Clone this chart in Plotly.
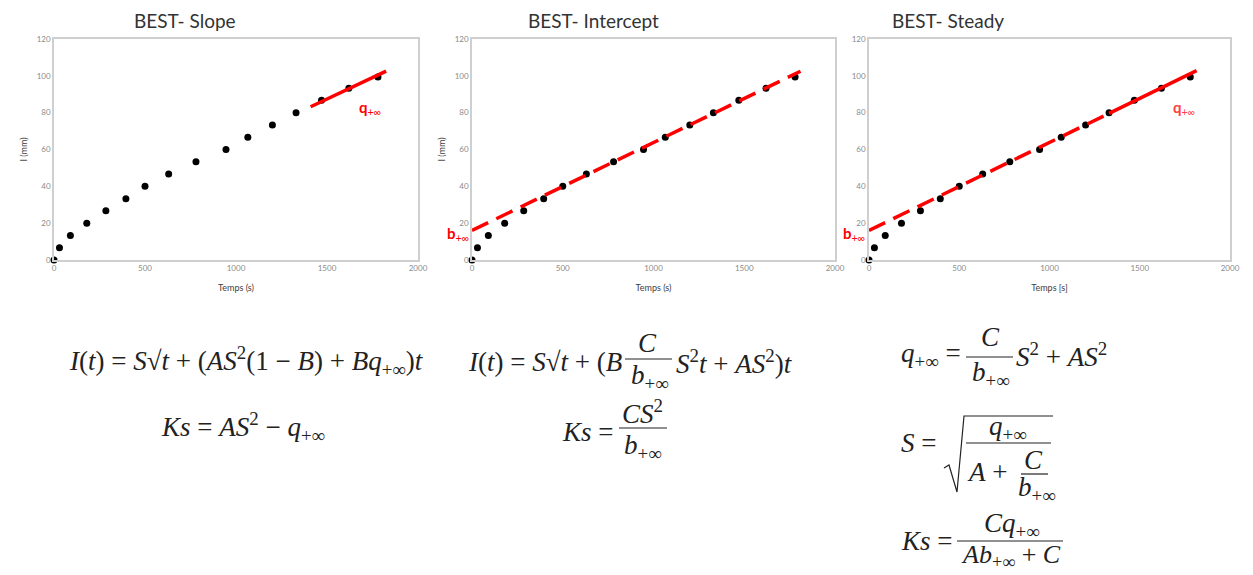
import plotly.graph_objects as go

# the page body keeps an 8px margin, so the figure is drawn 8px in from the corner
OFF = 8
W, H = 1253 - OFF, 575 - OFF

# infiltration data (same points on each)
temps = [0, 30, 90, 180, 285, 395, 500, 630, 780, 945, 1065, 1200, 1330, 1470, 1620, 1780]
infil = [0, 6.7, 13.3, 20, 26.7, 33.3, 40, 46.7, 53.3, 60, 66.7, 73.3, 80, 86.7, 93.3, 99.3]

# red fitted lines
slope_t = [1410, 1825]
slope_i = [83.2, 102.6]
icpt_t = [0, 1810]
icpt_i = [16.0, 102.5]
steady_dash_t = [0, 1330]
steady_dash_i = [16.0, 79.6]
steady_solid_t = [1330, 1815]
steady_solid_i = [79.6, 102.8]

titles = ["BEST- Slope", "BEST- Intercept", "BEST- Steady"]
xtitles = ["Temps (s)", "Temps (s)", "Temps [s]"]
xticks = [0, 500, 1000, 1500, 2000]
yticks = [0, 20, 40, 60, 80, 100, 120]


def px(x):
    return (x - OFF) / W


def py(y):
    return 1 - (y - OFF) / H


# pixel extents of the three plot areas (screen coordinates)
panels = [(54, 418), (472, 835), (869, 1230)]
ytop, ybot = 39, 260

fig = go.Figure()
for k in range(3):
    ax = "" if k == 0 else str(k + 1)
    fig.add_trace(go.Scatter(
        x=temps, y=infil, mode="markers", xaxis="x" + ax, yaxis="y" + ax,
        marker=dict(color="black", size=7), showlegend=False, cliponaxis=False,
    ))

red = "#ff0000"
fig.add_trace(go.Scatter(x=slope_t, y=slope_i, mode="lines", xaxis="x", yaxis="y",
                         line=dict(color=red, width=3.5), showlegend=False))
fig.add_trace(go.Scatter(x=icpt_t, y=icpt_i, mode="lines", xaxis="x2", yaxis="y2",
                         line=dict(color=red, width=3.5, dash="18px,9px"), showlegend=False))
fig.add_trace(go.Scatter(x=steady_dash_t, y=steady_dash_i, mode="lines", xaxis="x3", yaxis="y3",
                         line=dict(color=red, width=3.5, dash="18px,9px"), showlegend=False))
fig.add_trace(go.Scatter(x=steady_solid_t, y=steady_solid_i, mode="lines", xaxis="x3", yaxis="y3",
                         line=dict(color=red, width=3.5), showlegend=False))

axfont = dict(family="Lato, Arial", size=8, color="#8a8a8a")
layout = dict(
    width=W, height=H, margin=dict(l=0, r=0, t=0, b=0, autoexpand=False),
    paper_bgcolor="white", plot_bgcolor="white",
)
for k, (x0, x1) in enumerate(panels):
    ax = "" if k == 0 else str(k + 1)
    layout["xaxis" + ax] = dict(
        domain=[px(x0), px(x1)], range=[0, 2000], tickvals=xticks, anchor="y" + ax,
        showgrid=False, zeroline=False, showline=True, mirror=True, automargin=False,
        linecolor="#cfcfcf", linewidth=1.5, tickfont=axfont, ticks="",
        title=dict(text=xtitles[k], font=dict(family="Lato, Arial", size=9, color="#404040"),
                   standoff=12),
    )
    layout["yaxis" + ax] = dict(
        domain=[py(ybot), py(ytop)], range=[0, 120], tickvals=yticks, anchor="x" + ax,
        showgrid=False, zeroline=False, showline=True, mirror=True, automargin=False,
        linecolor="#cfcfcf", linewidth=1.5, tickfont=axfont, ticks="",
        title=dict(text="I (mm)" if k < 2 else "", font=dict(family="Lato, Arial", size=9, color="#404040"),
                   standoff=8),
    )
fig.update_layout(**layout)

ann = []
shapes = []
serif = "Liberation Serif, Times New Roman, serif"
EQ = 27


def text(x, y, s, size=EQ, anchor="left", color="#222", family=serif, yanchor="middle"):
    ann.append(dict(x=px(x), y=py(y), xref="paper", yref="paper", text=s, showarrow=False,
                    xanchor=anchor, yanchor=yanchor, borderpad=0,
                    font=dict(family=family, size=size, color=color)))


def bar(x0, x1, y):
    shapes.append(dict(type="line", xref="paper", yref="paper", x0=px(x0), x1=px(x1),
                       y0=py(y), y1=py(y), line=dict(color="#222", width=1.2)))


# titles
for cx, t in zip([185, 593, 948], titles):
    text(cx, 8, t, size=19, anchor="center", color="#333", family="Lato, Calibri, Arial", yanchor="top")

# red labels on the charts
lab = "Lato, Calibri, Arial"
text(358, 108, "<b>q</b><sub>+∞</sub>", size=15, color=red, family=lab)
text(446, 234, "<b>b</b><sub>+∞</sub>", size=15, color=red, family=lab)
text(842, 234, "<b>b</b><sub>+∞</sub>", size=15, color=red, family=lab)
text(1172, 108, "<b>q</b><sub>+∞</sub>", size=15, color="#ff4040", family=lab)

inf = "<sub>+∞</sub>"
sqt = "√<i>t</i>"

# panel 1 equations
text(68, 361, f"<i>I</i>(<i>t</i>) = <i>S</i>{sqt} + (<i>AS</i><sup>2</sup>(1 − <i>B</i>) + <i>Bq</i>{inf})<i>t</i>")
text(160, 427, f"<i>Ks</i> = <i>AS</i><sup>2</sup> − <i>q</i>{inf}")

# panel 2 equations
text(623, 362, f"<i>I</i>(<i>t</i>) = <i>S</i>{sqt} + (<i>B</i>", anchor="right")
text(648, 343, "<i>C</i>", anchor="center")
bar(625, 672, 359)
text(650, 377, f"<i>b</i>{inf}", anchor="center")
text(675, 362, "<i>S</i><sup>2</sup><i>t</i> + <i>AS</i><sup>2</sup>)<i>t</i>")

text(615, 432, "<i>Ks</i> =", anchor="right")
text(642, 412, "<i>CS</i><sup>2</sup>", anchor="center")
bar(619, 667, 428)
text(643, 447, f"<i>b</i>{inf}", anchor="center")

# panel 3 equations
text(962, 355, f"<i>q</i>{inf} =", anchor="right")
text(990, 337, "<i>C</i>", anchor="center")
bar(966, 1013, 357)
text(991, 374, f"<i>b</i>{inf}", anchor="center")
text(1015, 355, "<i>S</i><sup>2</sup> + <i>AS</i><sup>2</sup>")

text(937, 443, "<i>S</i> =", anchor="right")
shapes.append(dict(type="path", xref="paper", yref="paper",
                   path=f"M {px(944)} {py(468)} L {px(949)} {py(465)} L {px(957)} {py(492)} "
                        f"L {px(964)} {py(416)} L {px(1053)} {py(416)}",
                   line=dict(color="#222", width=1.2)))
text(1008, 428, f"<i>q</i>{inf}", anchor="center")
bar(966, 1051, 443)
text(966, 472, "<i>A</i> +")
text(1033, 460, "<i>C</i>", anchor="center")
bar(1021, 1048, 474)
text(1037, 489, f"<i>b</i>{inf}", anchor="center")

text(954, 541, "<i>Ks</i> =", anchor="right")
text(1012, 525, f"<i>Cq</i>{inf}", anchor="center")
bar(957, 1063, 541)
text(1011, 556, f"<i>Ab</i>{inf} + <i>C</i>", size=26, anchor="center")

fig.update_layout(annotations=ann, shapes=shapes)
fig.write_html("out.html")
